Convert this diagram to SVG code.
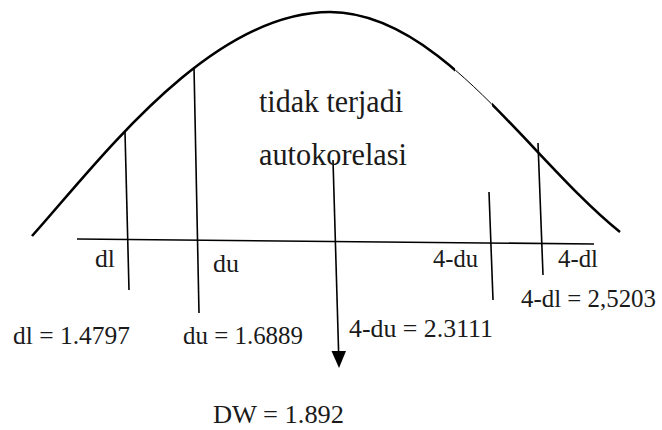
<svg xmlns="http://www.w3.org/2000/svg" width="662" height="430" viewBox="0 0 662 430">
<style>
.t{font-family:"Liberation Serif","Times New Roman",serif;fill:#1a1a1a}
.big{font-size:31px}
.lab{font-size:26px}
.ln{stroke:#000;stroke-width:1.6;fill:none}
</style>
<defs>
<clipPath id="thick"><path d="M0 0H455V430H0Z M492 0H662V430H492Z"/></clipPath>
</defs>
<rect width="662" height="430" fill="#fff"/>
<g id="curve">
<path d="M32 236C100 160 210 12 330 12C440 12 530 160 620 232" fill="none" stroke="#000" stroke-width="1"/>
<path d="M32 236C100 160 210 12 330 12C440 12 530 160 620 232" fill="none" stroke="#000" stroke-width="2.6" clip-path="url(#thick)"/>
</g>
<g id="connectors">
<line class="ln" x1="77" y1="239" x2="594" y2="244" stroke-width="2"/>
<line class="ln" x1="125" y1="132" x2="129" y2="290"/>
<line class="ln" x1="194" y1="67" x2="199" y2="313"/>
<line class="ln" x1="489" y1="192" x2="493" y2="300"/>
<line class="ln" x1="538" y1="143" x2="543" y2="275"/>
<path d="M333 160L338.6 352" stroke="#000" stroke-width="1.6" fill="none"/>
<path d="M331.5 351L346 351L339 368Z" fill="#000"/>
</g>
<g id="region-label">
<text class="t big" x="259" y="112" textLength="144" lengthAdjust="spacingAndGlyphs">tidak terjadi</text>
<text class="t big" x="259" y="165" textLength="148" lengthAdjust="spacingAndGlyphs">autokorelasi</text>
</g>
<g id="axis-labels">
<text class="t lab" x="95" y="267" textLength="20" lengthAdjust="spacingAndGlyphs">dl</text>
<text class="t lab" x="213" y="272" textLength="26" lengthAdjust="spacingAndGlyphs">du</text>
<text class="t lab" x="433" y="267" textLength="45" lengthAdjust="spacingAndGlyphs">4-du</text>
<text class="t lab" x="558" y="267" textLength="40" lengthAdjust="spacingAndGlyphs">4-dl</text>
</g>
<g id="values">
<text class="t lab" x="13" y="344" textLength="117" lengthAdjust="spacingAndGlyphs">dl = 1.4797</text>
<text class="t lab" x="183" y="344" textLength="120" lengthAdjust="spacingAndGlyphs">du = 1.6889</text>
<text class="t lab" x="349" y="337" textLength="144" lengthAdjust="spacingAndGlyphs">4-du = 2.3111</text>
<text class="t lab" x="521" y="307" textLength="135" lengthAdjust="spacingAndGlyphs">4-dl = 2,5203</text>
<text class="t lab" x="213" y="423" textLength="131" lengthAdjust="spacingAndGlyphs">DW = 1.892</text>
</g>
</svg>
